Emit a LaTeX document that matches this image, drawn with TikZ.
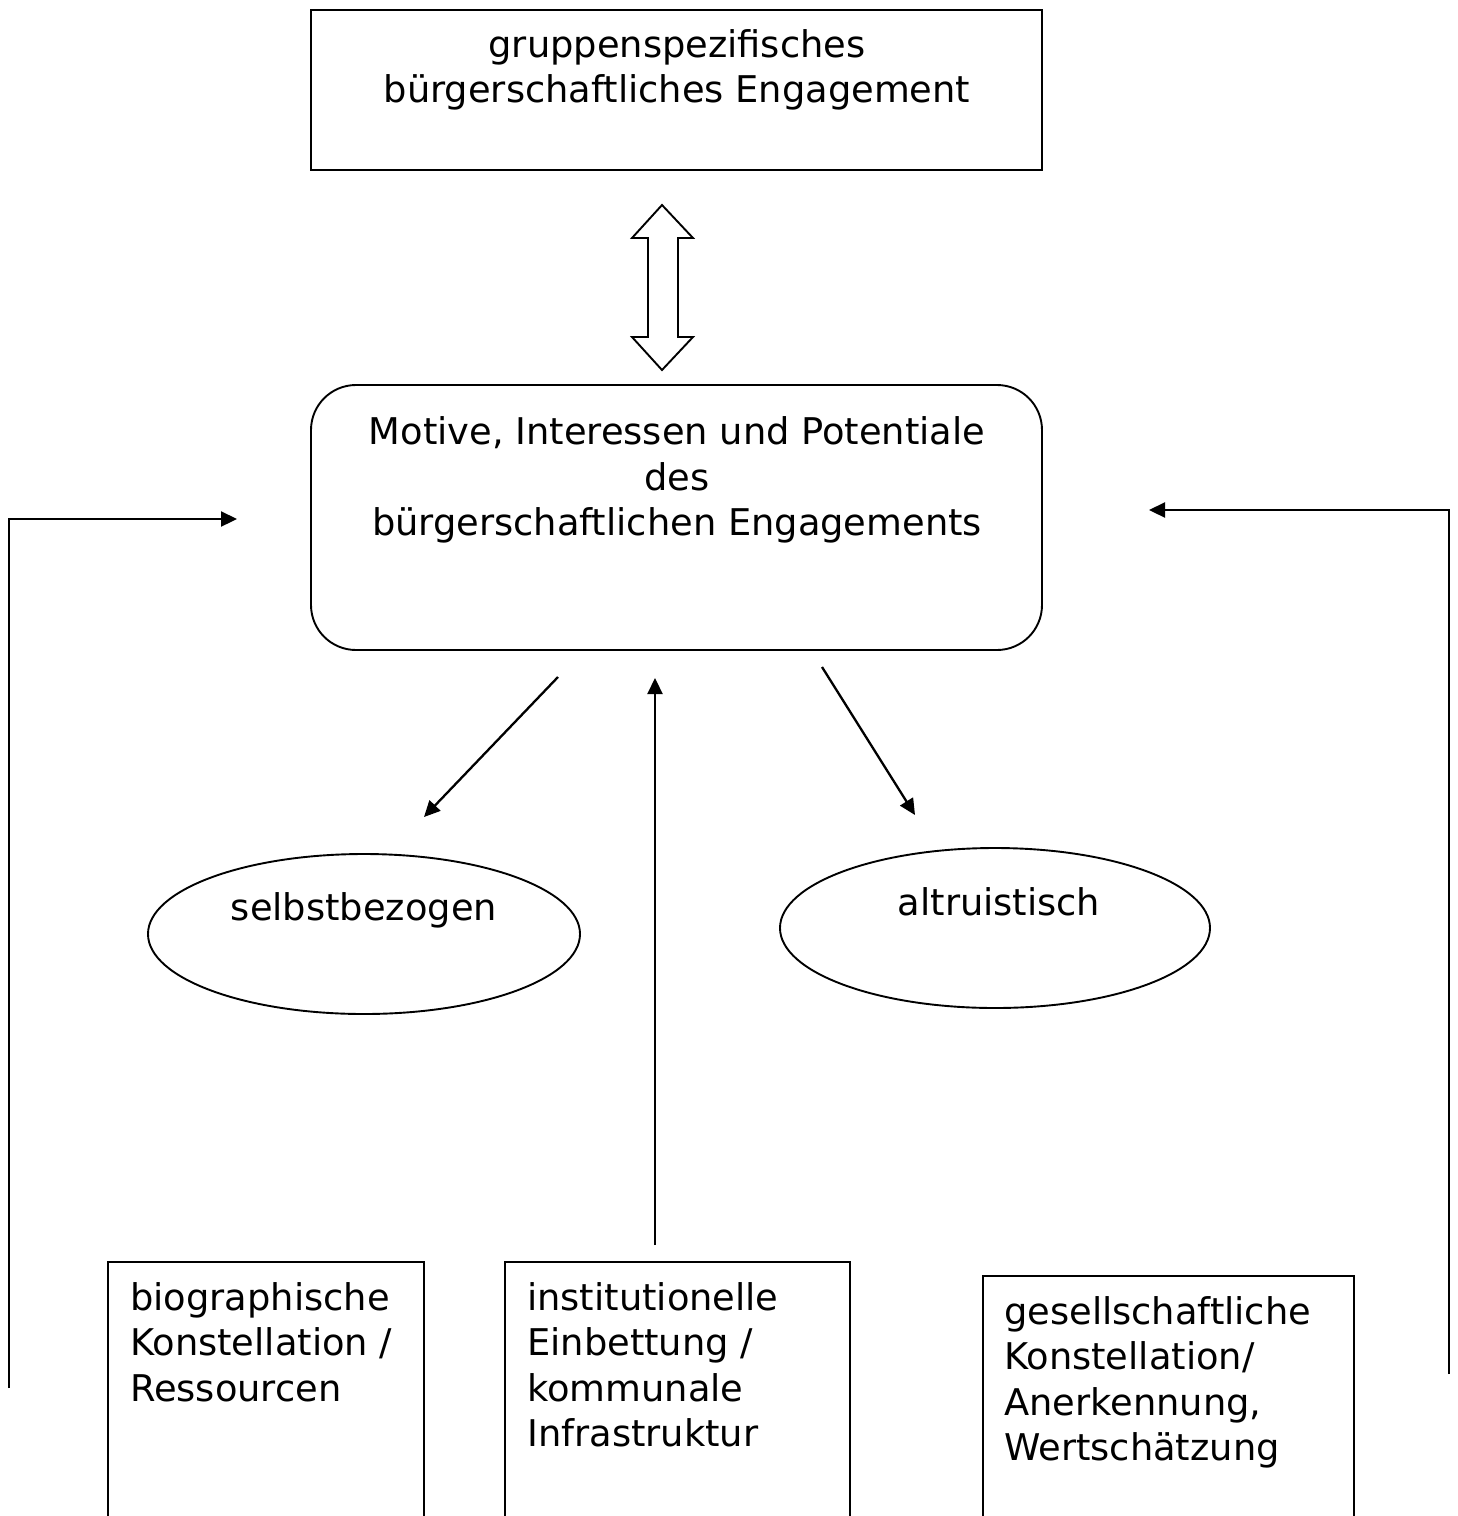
\documentclass[tikz,border=0pt]{standalone}
\usepackage{fontspec}
\setmainfont{DejaVu Sans}
\usetikzlibrary{arrows.meta,shapes.geometric}
\tikzset{
  txt/.style={font=\fontsize{36.8}{45.5}\selectfont, inner sep=0pt},
  ln/.style={line width=1.9pt},
  arr/.style={line width=2.3pt, -{Triangle[length=16pt,width=15pt]}},
}
\begin{document}
\begin{tikzpicture}[x=1pt,y=-1pt]
\useasboundingbox (0,0) rectangle (1458,1516);
% top box
\draw[ln] (311,10) rectangle (1042,170);
\node[txt, align=center] (top) at (677,70) {gruppenspezifisches\\bürgerschaftliches Engagement};
% double arrow
\draw[ln, line join=miter] (662,205) -- (693,238) -- (678,238) -- (678,337) -- (693,337) -- (662,370)
  -- (632,337) -- (648,337) -- (648,238) -- (632,238) -- cycle;
% central rounded box
\draw[ln, rounded corners=45pt] (311,385) rectangle (1042,650);
\node[txt, align=center] (mid) at (677,480) {Motive, Interessen und Potentiale\\des\\bürgerschaftlichen Engagements};
% ellipses
\node[draw, ln, ellipse, minimum width=432pt, minimum height=160pt] (e1) at (364,934) {};
\node[txt] (t1) at (364,910) {selbstbezogen};
\node[draw, ln, ellipse, minimum width=430pt, minimum height=160pt] (e2) at (995,928) {};
\node[txt] (t2) at (999,902) {altruistisch};
% bottom boxes
\draw[ln] (108,1520) -- (108,1262) -- (424,1262) -- (424,1520);
\node[txt, anchor=north west, align=left] (b1) at (130,1282) {biographische\\Konstellation /\\Ressourcen};
\draw[ln] (505,1520) -- (505,1262) -- (850,1262) -- (850,1520);
\node[txt, anchor=north west, align=left] (b2) at (527,1282) {institutionelle\\Einbettung /\\kommunale\\Infrastruktur};
\draw[ln] (983,1520) -- (983,1276) -- (1354,1276) -- (1354,1520);
\node[txt, anchor=north west, align=left] (b3) at (1004,1296) {gesellschaftliche\\Konstellation/\\Anerkennung,\\Wertschätzung};
% connectors
\coordinate (d1s) at (558,677); \coordinate (d1e) at (424,817);
\coordinate (d2s) at (822,667); \coordinate (d2e) at (915,815);
\coordinate (vs) at (655,1245); \coordinate (ve) at (655,678);
\draw[arr] (d1s) -- (d1e);
\draw[arr] (d2s) -- (d2e);
\draw[arr] (vs) -- (ve);
\coordinate (ls) at (9,1388); \coordinate (le) at (237,519);
\draw[arr] (ls) |- (le);
\coordinate (rs) at (1449,1374); \coordinate (re) at (1149,510);
\draw[arr] (rs) |- (re);
\end{tikzpicture}
\end{document}
